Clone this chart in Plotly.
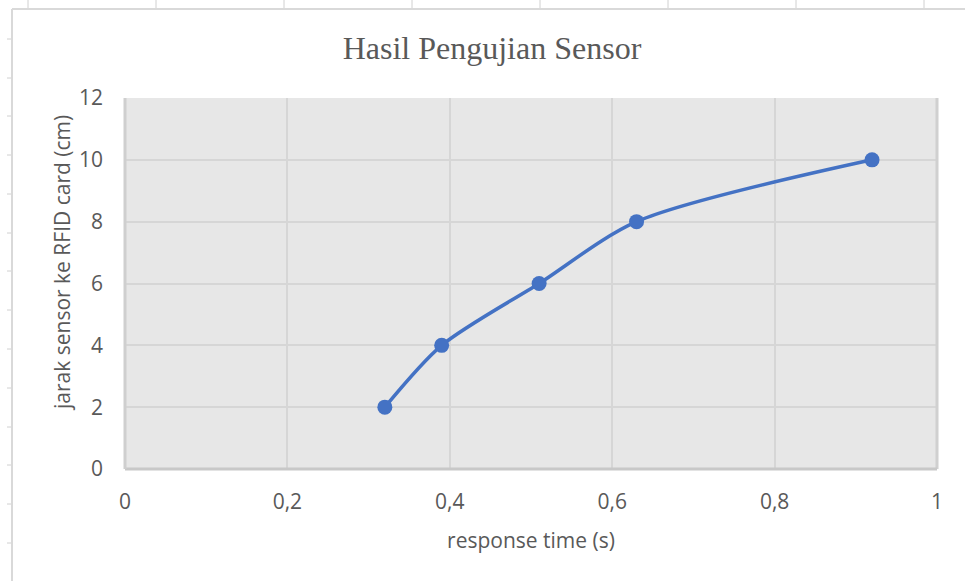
import plotly.graph_objects as go

# Data
response_time = [0.32, 0.39, 0.51, 0.63, 0.92]
jarak_cm = [2, 4, 6, 8, 10]
x_ticks = [0, 0.2, 0.4, 0.6, 0.8, 1]
x_tick_labels = ["0", "0,2", "0,4", "0,6", "0,8", "1"]
y_ticks = [0, 2, 4, 6, 8, 10, 12]

W, H = 965, 581
L, R, T, B = 125, 937, 98, 469

def px(xp):
    return (xp - L) / (R - L)

def py(yp):
    return (B - yp) / (B - T)

fig = go.Figure()
fig.add_trace(go.Scatter(
    x=response_time, y=jarak_cm, mode="lines+markers",
    line=dict(color="#4472C4", width=3.5, shape="spline", smoothing=0.8),
    marker=dict(color="#4472C4", size=15),
    showlegend=False, hoverinfo="x+y",
))

shapes = []
# Excel chart frame (left and top border)
shapes.append(dict(type="line", xref="paper", yref="paper", x0=px(12), x1=px(965), y0=py(9), y1=py(9),
                   line=dict(color="#d9d9d9", width=2), layer="above"))
shapes.append(dict(type="line", xref="paper", yref="paper", x0=px(12), x1=px(12), y0=py(9), y1=py(581),
                   line=dict(color="#d9d9d9", width=2), layer="above"))
# spreadsheet cell ticks
for xt in [28, 156, 284, 412, 540, 668, 796, 924]:
    shapes.append(dict(type="line", xref="paper", yref="paper", x0=px(xt), x1=px(xt), y0=py(0), y1=py(8),
                       line=dict(color="#d0d0d0", width=1)))
for yt in [39, 78, 116, 155, 194, 233, 271, 310, 349, 388, 427, 465, 504, 543]:
    shapes.append(dict(type="line", xref="paper", yref="paper", x0=px(7), x1=px(11), y0=py(yt), y1=py(yt),
                       line=dict(color="#d0d0d0", width=1)))
# plot area edges
shapes.append(dict(type="line", xref="paper", yref="paper", x0=1, x1=1, y0=0, y1=1,
                   line=dict(color="#d0d0d0", width=3), layer="above"))
shapes.append(dict(type="line", xref="paper", yref="paper", x0=0, x1=1, y0=0, y1=0,
                   line=dict(color="#c8c8c8", width=3), layer="above"))
shapes.append(dict(type="line", xref="paper", yref="paper", x0=0, x1=0, y0=0, y1=1,
                   line=dict(color="#cfcfcf", width=3), layer="above"))

sans = "Open Sans, Lato, sans-serif"
grey = "#595959"
tick_font = dict(family=sans, size=21, color=grey)

fig.update_layout(
    width=W, height=H,
    margin=dict(l=L, r=W - R, t=T, b=H - B, pad=0),
    paper_bgcolor="white",
    plot_bgcolor="#e7e7e7",
    title=dict(text="Hasil Pengujian Sensor", x=492 / W, xanchor="center",
               y=1 - 48 / H, yanchor="middle",
               font=dict(family="Liberation Serif, Times New Roman, serif", size=32, color=grey)),
    xaxis=dict(range=[0, 1], tickvals=x_ticks, ticktext=x_tick_labels,
               showgrid=True, gridcolor="#d6d6d6", gridwidth=2, zeroline=False,
               showline=False, ticks="", tickfont=tick_font, ticklabelstandoff=18,
               title=dict(text="response time (s)", standoff=19,
                          font=dict(family=sans, size=21, color=grey))),
    yaxis=dict(range=[0, 12], tickvals=y_ticks,
               showgrid=True, gridcolor="#d6d6d6", gridwidth=2, zeroline=False,
               showline=False, ticks="", tickfont=tick_font, ticklabelstandoff=21),
    annotations=[dict(text="jarak sensor ke RFID card (cm)", textangle=-90,
                      xref="paper", yref="paper", x=px(62), y=py(263),
                      xanchor="center", yanchor="middle", showarrow=False,
                      font=dict(family=sans, size=21, color=grey))],
    shapes=shapes,
)

fig.write_html("out.html", config={"displayModeBar": False},
               post_script="document.body.style.margin='0';")
